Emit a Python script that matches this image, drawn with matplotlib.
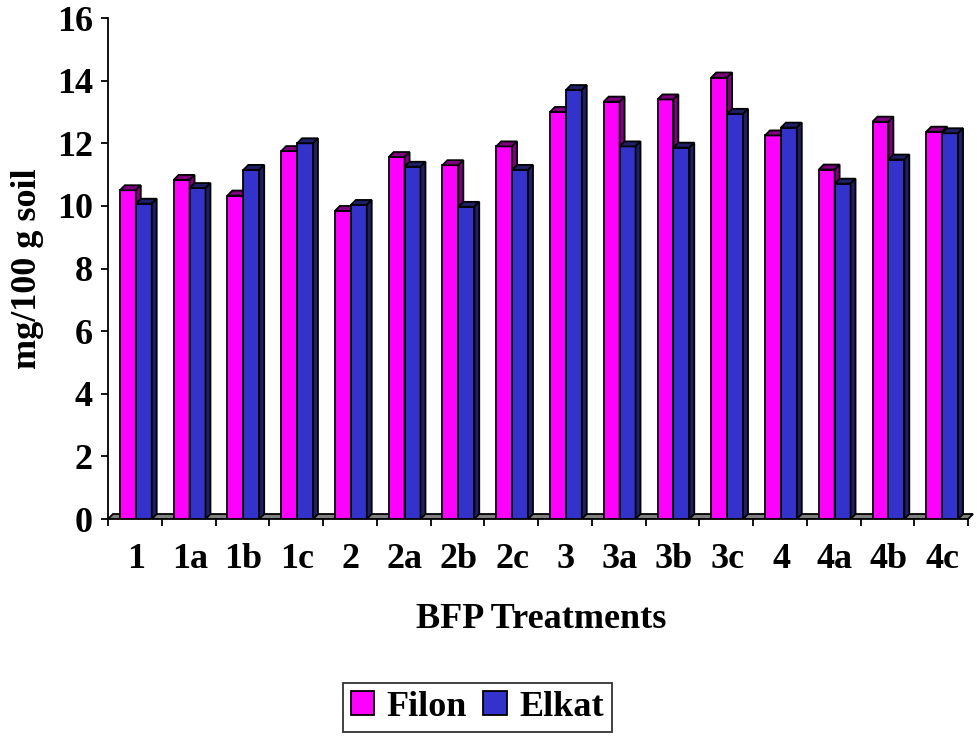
import matplotlib.pyplot as plt
from matplotlib.patches import Polygon, Rectangle, Patch

# treatments and measured values (mg/100 g soil)
treatments = ['1', '1a', '1b', '1c', '2', '2a', '2b', '2c',
              '3', '3a', '3b', '3c', '4', '4a', '4b', '4c']
filon = [10.5, 10.83, 10.33, 11.75, 9.84, 11.56, 11.3, 11.9,
         13.0, 13.33, 13.4, 14.1, 12.25, 11.16, 12.69, 12.37]
elkat = [10.07, 10.57, 11.15, 12.0, 10.03, 11.25, 9.97, 11.15,
         13.7, 11.9, 11.86, 12.94, 12.5, 10.71, 11.48, 12.32]

plt.rcParams['font.family'] = 'Liberation Serif'
plt.rcParams['font.weight'] = 'bold'
fs = 26

fig = plt.figure(figsize=(9.8, 7.36), dpi=100)
ax = fig.add_axes([0.1102, 0.2948, 0.8837, 0.6807])

# fake 3d depth, in data units
dx = 0.092
dy = 0.16
bar_w = 0.296
lw = 1.3

n = len(treatments)

# floor
ax.add_patch(Polygon([(0, 0), (n, 0), (n + dx, dy), (dx, dy)], closed=True,
                     facecolor='#808080', edgecolor='black', lw=lw, zorder=1))


def bar3d(x0, h, front, dark):
    ax.add_patch(Rectangle((x0, 0), bar_w, h, facecolor=front,
                           edgecolor='black', lw=lw, zorder=3))
    ax.add_patch(Polygon([(x0, h), (x0 + bar_w, h), (x0 + bar_w + dx, h + dy), (x0 + dx, h + dy)],
                         closed=True, facecolor=dark, edgecolor='black', lw=lw, zorder=3))
    ax.add_patch(Polygon([(x0 + bar_w, 0), (x0 + bar_w + dx, dy), (x0 + bar_w + dx, h + dy), (x0 + bar_w, h)],
                         closed=True, facecolor=dark, edgecolor='black', lw=lw, zorder=3))


for i in range(n):
    bar3d(i + 0.222, filon[i], '#FF00FF', '#800080')
    bar3d(i + 0.222 + bar_w, elkat[i], '#3333CC', '#1F1F66')

ax.set_xlim(0, n + 0.11)
ax.set_ylim(0, 16)

for side in ['top', 'right']:
    ax.spines[side].set_visible(False)
ax.spines['left'].set_linewidth(1.3)
ax.spines['bottom'].set_linewidth(1.3)
ax.spines['bottom'].set_bounds(0, n)

ax.set_yticks(range(0, 17, 2))
ax.tick_params(axis='y', direction='out', length=5, width=1.3, pad=6, labelsize=fs)

ax.set_xticks(range(0, n + 1))
ax.set_xticklabels([])
ax.set_xticks([i + 0.52 for i in range(n)], minor=True)
ax.set_xticklabels(treatments, minor=True)
ax.tick_params(axis='x', which='major', direction='out', length=5, width=1.3)
ax.tick_params(axis='x', which='minor', length=0, pad=17, labelsize=fs)

ax.set_xlabel('BFP Treatments', fontsize=fs, fontweight='bold')
ax.xaxis.set_label_coords(0.5, -0.168)
ax.set_ylabel('mg/100 g soil', fontsize=fs, fontweight='bold')
ax.yaxis.set_label_coords(-0.074, 0.5)

handles = [Patch(facecolor='#FF00FF', edgecolor='black', lw=1.3, label='Filon'),
           Patch(facecolor='#3333CC', edgecolor='black', lw=1.3, label='Elkat')]
leg = fig.legend(handles=handles, loc='center', bbox_to_anchor=(0.487, 0.0387), ncol=2,
                 fontsize=fs, frameon=True, fancybox=False, edgecolor='black',
                 handlelength=0.65, handleheight=0.65, handletextpad=0.35,
                 columnspacing=0.45, borderpad=0.22, borderaxespad=0)
leg.get_frame().set_linewidth(1.3)

fig.savefig('out.png', dpi=100)
